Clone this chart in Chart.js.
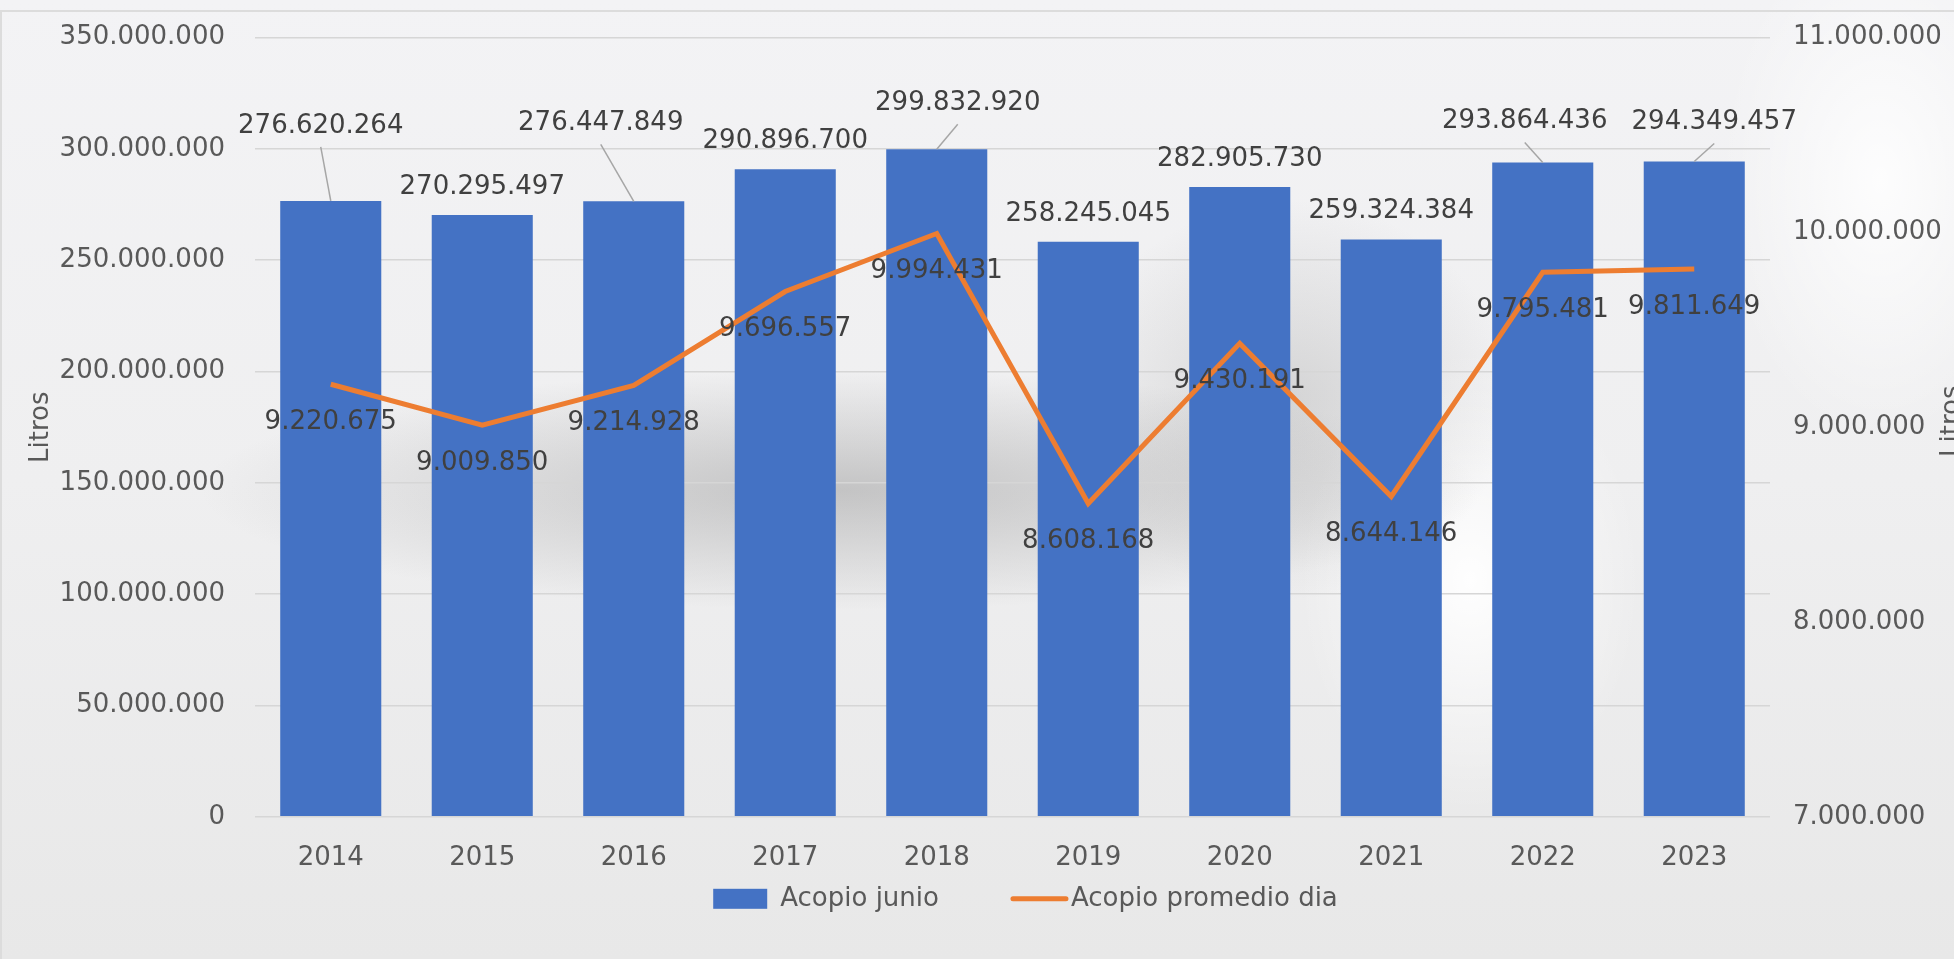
<!DOCTYPE html>
<html>
<head>
<meta charset="utf-8">
<script src="https://cdn.jsdelivr.net/npm/chart.js@4.4.1/dist/chart.umd.min.js"></script>
<style>
  html, body { margin: 0; padding: 0; overflow: hidden; }
  body {
    width: 1954px; height: 959px; position: relative;
    background:
      radial-gradient(ellipse 640px 120px at 840px 490px, rgba(125,125,125,0.38), rgba(125,125,125,0) 100%),
      radial-gradient(ellipse 220px 200px at 1290px 400px, rgba(150,150,150,0.30), rgba(150,150,150,0) 100%),
      radial-gradient(ellipse 170px 230px at 1470px 580px, rgba(255,255,255,0.95), rgba(255,255,255,0) 100%),
      radial-gradient(ellipse 160px 260px at 1880px 180px, rgba(255,255,255,0.85), rgba(255,255,255,0) 100%),
      linear-gradient(180deg, #f3f3f5 0%, #efeff0 50%, #e8e8e8 100%);
  }
  #frame {
    position: absolute; left: 0; top: 10px; width: 1954px; height: 949px;
    border-top: 2px solid #dcdcdc; border-left: 2px solid #dcdcdc; box-sizing: border-box;
  }
  #chart { position: absolute; left: 0; top: -8px; }
</style>
</head>
<body>
<div id="frame"></div>
<canvas id="chart" width="1954" height="967"></canvas>
<script>
var years = ['2014', '2015', '2016', '2017', '2018', '2019', '2020', '2021', '2022', '2023'];
var acopioJunio = [276620264, 270295497, 276447849, 290896700, 299832920, 258245045, 282905730, 259324384, 293864436, 294349457];
var acopioPromedioDia = [9220675, 9009850, 9214928, 9696557, 9994431, 8608168, 9430191, 8644146, 9795481, 9811649];
var litrosTicks = [0, 50000000, 100000000, 150000000, 200000000, 250000000, 300000000, 350000000];
var diaTicks = [7000000, 8000000, 9000000, 10000000, 11000000];

// labels Excel moved by hand (px from default spot), drawn with a leader line
var barLabelNudge = [[-10, -47], [0, 0], [-33, -50], [0, 0], [21, -18], [0, 0], [0, 0], [0, 0], [-18, -13], [20, -11]];

function fmt(v) {
  return Math.round(v).toString().replace(/\B(?=(\d{3})+(?!\d))/g, '.');
}

Chart.defaults.font.family = '"DejaVu Sans", sans-serif';
Chart.defaults.font.size = 26;
Chart.defaults.color = '#595959';

var dataLabels = {
  id: 'dataLabels',
  afterDatasetsDraw: function(chart) {
    var ctx = chart.ctx;
    ctx.save();
    ctx.font = '26px "DejaVu Sans"';
    ctx.textAlign = 'center';
    ctx.textBaseline = 'middle';
    chart.getDatasetMeta(0).data.forEach(function(bar, i) {
      var n = barLabelNudge[i];
      var lx = bar.x + n[0], ly = bar.y - 28 + n[1];
      if (n[0] || n[1]) {
        ctx.strokeStyle = '#a6a6a6';
        ctx.lineWidth = 1.5;
        ctx.beginPath();
        ctx.moveTo(lx, ly + 21);
        ctx.lineTo(bar.x, bar.y);
        ctx.stroke();
      }
      ctx.fillStyle = '#404040';
      ctx.fillText(fmt(acopioJunio[i]), lx, ly);
    });
    chart.getDatasetMeta(1).data.forEach(function(pt, i) {
      ctx.fillStyle = '#404040';
      ctx.fillText(fmt(acopioPromedioDia[i]), pt.x, pt.y + 38);
    });
    ctx.restore();
  }
};

var extras = {
  id: 'extras',
  afterDraw: function(chart) {
    var ctx = chart.ctx;
    var area = chart.chartArea;
    ctx.save();
    // right axis title, same orientation as the left one
    ctx.font = '26px "DejaVu Sans"';
    ctx.fillStyle = '#595959';
    ctx.textAlign = 'center';
    ctx.textBaseline = 'middle';
    ctx.translate(1952, (area.top + area.bottom) / 2 - 6);
    ctx.rotate(-Math.PI / 2);
    ctx.fillText('Litros', 0, 0);
    ctx.restore();

    // legend
    ctx.save();
    ctx.font = '26px "DejaVu Sans"';
    ctx.textBaseline = 'middle';
    ctx.textAlign = 'left';
    var ds = chart.data.datasets;
    var items = [
      { w: 54, gap: 13, text: ds[0].label },
      { w: 57, gap: 3, text: ds[1].label }
    ];
    var spacing = 72;
    var total = 0;
    items.forEach(function(it, k) {
      it.tw = ctx.measureText(it.text).width;
      total += it.w + it.gap + it.tw + (k ? spacing : 0);
    });
    var x = (area.left + area.right) / 2 + 13 - total / 2;
    var y = area.bottom + 82;
    items.forEach(function(it, k) {
      if (k) x += spacing;
      if (k === 0) {
        ctx.fillStyle = ds[0].backgroundColor;
        ctx.fillRect(x, y - 10, it.w, 20);
      } else {
        ctx.strokeStyle = ds[1].borderColor;
        ctx.lineWidth = 5;
        ctx.lineCap = 'round';
        ctx.beginPath();
        ctx.moveTo(x + 2, y);
        ctx.lineTo(x + it.w - 2, y);
        ctx.stroke();
      }
      x += it.w + it.gap;
      ctx.fillStyle = '#595959';
      ctx.fillText(it.text, x, y);
      x += it.tw;
    });
    ctx.restore();
  }
};

new Chart(document.getElementById('chart').getContext('2d'), {
  type: 'bar',
  data: {
    labels: years,
    datasets: [{
      label: 'Acopio junio',
      data: acopioJunio,
      backgroundColor: '#4472C4',
      borderWidth: 0,
      categoryPercentage: 1,
      barPercentage: 0.667,
      yAxisID: 'y',
      order: 1
    }, {
      type: 'line',
      label: 'Acopio promedio dia',
      data: acopioPromedioDia,
      borderColor: '#ED7D31',
      backgroundColor: '#ED7D31',
      borderWidth: 5,
      pointRadius: 0,
      tension: 0,
      yAxisID: 'y1',
      order: 0
    }]
  },
  options: {
    responsive: false,
    animation: false,
    layout: { padding: { top: 14, bottom: 67, left: 0, right: 0 } },
    plugins: {
      legend: { display: false },
      tooltip: { enabled: false }
    },
    scales: {
      x: {
        grid: { display: false },
        border: { display: false },
        ticks: { padding: 18 }
      },
      y: {
        position: 'left',
        min: litrosTicks[0],
        max: litrosTicks[litrosTicks.length - 1],
        afterBuildTicks: function(scale) {
          scale.ticks = litrosTicks.map(function(v) { return { value: v }; });
        },
        afterFit: function(scale) { scale.width = 255; },
        grid: { color: '#d6d6d6', lineWidth: 1.5, drawTicks: false },
        border: { display: false },
        ticks: { padding: 30, callback: function(v) { return fmt(v); } },
        title: { display: true, text: 'Litros', padding: { top: 26, bottom: 0 } }
      },
      y1: {
        position: 'right',
        min: diaTicks[0],
        max: diaTicks[diaTicks.length - 1],
        afterBuildTicks: function(scale) {
          scale.ticks = diaTicks.map(function(v) { return { value: v }; });
        },
        afterFit: function(scale) { scale.width = 1954 - 1770; },
        grid: { display: false, drawTicks: false },
        border: { display: false },
        ticks: { padding: 23, callback: function(v) { return fmt(v); } }
      }
    }
  },
  plugins: [dataLabels, extras]
});
</script>
</body>
</html>
